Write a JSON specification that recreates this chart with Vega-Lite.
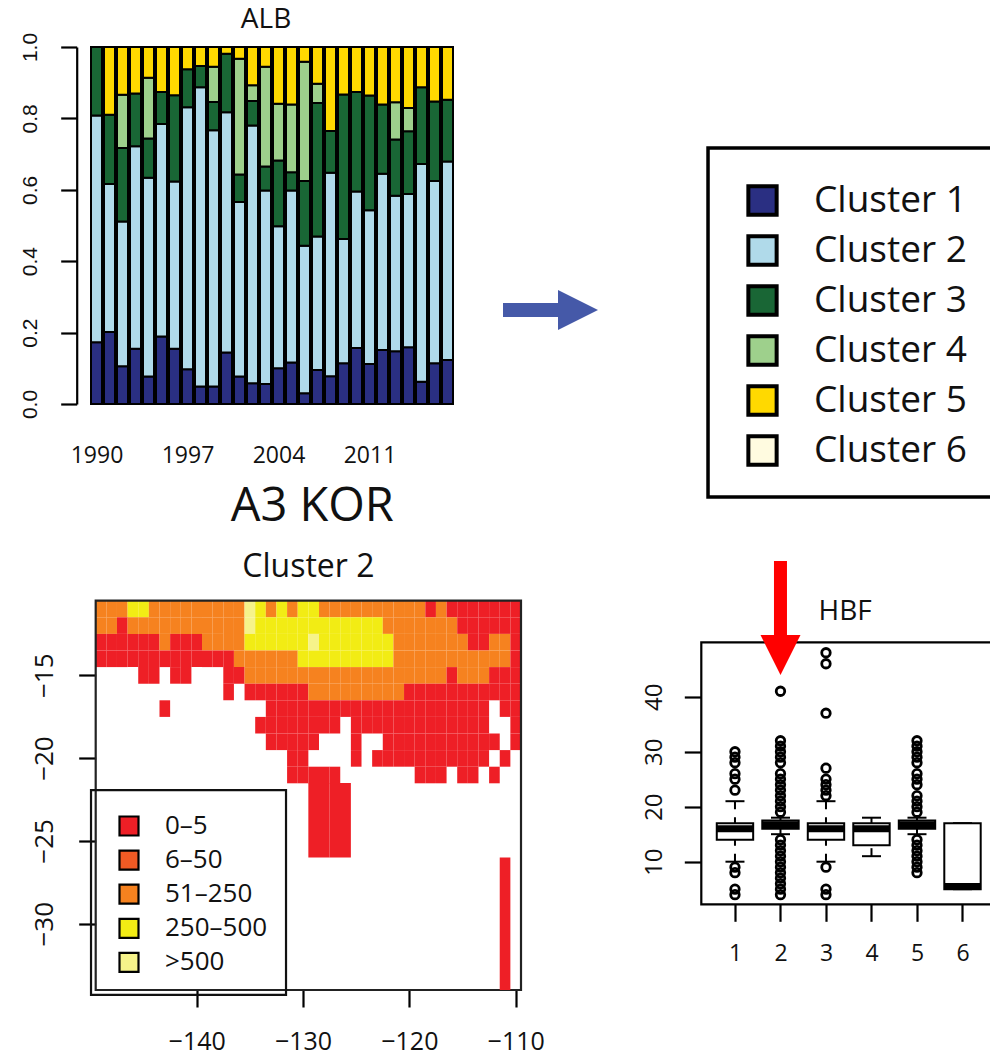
{"$schema":"https://vega.github.io/schema/vega-lite/v6.json","width":990,"height":1054,"padding":0,"autosize":"none","background":"white",
"config":{"view":{"stroke":null},"axis":{"grid":false,"title":null,"labelColor":"#111","tickColor":"#000","domainColor":"#000","tickWidth":2.2,"domainWidth":2.2,"labelFont":"Open Sans"},"legend":{"titleFontSize":0}},
"layer":[
{"data":{"values":[
{"year":1990,"cluster":"Cluster 1","share":0.173},{"year":1990,"cluster":"Cluster 2","share":0.635},{"year":1990,"cluster":"Cluster 3","share":0.192},
{"year":1991,"cluster":"Cluster 1","share":0.202},{"year":1991,"cluster":"Cluster 2","share":0.414},{"year":1991,"cluster":"Cluster 3","share":0.194},{"year":1991,"cluster":"Cluster 5","share":0.19},
{"year":1992,"cluster":"Cluster 1","share":0.106},{"year":1992,"cluster":"Cluster 2","share":0.405},{"year":1992,"cluster":"Cluster 3","share":0.206},{"year":1992,"cluster":"Cluster 4","share":0.149},{"year":1992,"cluster":"Cluster 5","share":0.134},
{"year":1993,"cluster":"Cluster 1","share":0.155},{"year":1993,"cluster":"Cluster 2","share":0.567},{"year":1993,"cluster":"Cluster 3","share":0.148},{"year":1993,"cluster":"Cluster 5","share":0.13},
{"year":1994,"cluster":"Cluster 1","share":0.077},{"year":1994,"cluster":"Cluster 2","share":0.557},{"year":1994,"cluster":"Cluster 3","share":0.11},{"year":1994,"cluster":"Cluster 4","share":0.17},{"year":1994,"cluster":"Cluster 5","share":0.086},
{"year":1995,"cluster":"Cluster 1","share":0.189},{"year":1995,"cluster":"Cluster 2","share":0.595},{"year":1995,"cluster":"Cluster 3","share":0.09},{"year":1995,"cluster":"Cluster 5","share":0.126},
{"year":1996,"cluster":"Cluster 1","share":0.155},{"year":1996,"cluster":"Cluster 2","share":0.468},{"year":1996,"cluster":"Cluster 3","share":0.242},{"year":1996,"cluster":"Cluster 5","share":0.135},
{"year":1997,"cluster":"Cluster 1","share":0.097},{"year":1997,"cluster":"Cluster 2","share":0.734},{"year":1997,"cluster":"Cluster 3","share":0.107},{"year":1997,"cluster":"Cluster 5","share":0.062},
{"year":1998,"cluster":"Cluster 1","share":0.049},{"year":1998,"cluster":"Cluster 2","share":0.838},{"year":1998,"cluster":"Cluster 3","share":0.06},{"year":1998,"cluster":"Cluster 5","share":0.053},
{"year":1999,"cluster":"Cluster 1","share":0.049},{"year":1999,"cluster":"Cluster 2","share":0.718},{"year":1999,"cluster":"Cluster 3","share":0.079},{"year":1999,"cluster":"Cluster 4","share":0.099},{"year":1999,"cluster":"Cluster 5","share":0.055},
{"year":2000,"cluster":"Cluster 1","share":0.144},{"year":2000,"cluster":"Cluster 2","share":0.673},{"year":2000,"cluster":"Cluster 3","share":0.164},{"year":2000,"cluster":"Cluster 5","share":0.019},
{"year":2001,"cluster":"Cluster 1","share":0.077},{"year":2001,"cluster":"Cluster 2","share":0.489},{"year":2001,"cluster":"Cluster 3","share":0.077},{"year":2001,"cluster":"Cluster 4","share":0.324},{"year":2001,"cluster":"Cluster 5","share":0.033},
{"year":2002,"cluster":"Cluster 1","share":0.058},{"year":2002,"cluster":"Cluster 2","share":0.722},{"year":2002,"cluster":"Cluster 3","share":0.069},{"year":2002,"cluster":"Cluster 4","share":0.044},{"year":2002,"cluster":"Cluster 5","share":0.107},
{"year":2003,"cluster":"Cluster 1","share":0.056},{"year":2003,"cluster":"Cluster 2","share":0.542},{"year":2003,"cluster":"Cluster 3","share":0.067},{"year":2003,"cluster":"Cluster 4","share":0.28},{"year":2003,"cluster":"Cluster 5","share":0.055},
{"year":2004,"cluster":"Cluster 1","share":0.1},{"year":2004,"cluster":"Cluster 2","share":0.398},{"year":2004,"cluster":"Cluster 3","share":0.184},{"year":2004,"cluster":"Cluster 4","share":0.159},{"year":2004,"cluster":"Cluster 5","share":0.159},
{"year":2005,"cluster":"Cluster 1","share":0.116},{"year":2005,"cluster":"Cluster 2","share":0.482},{"year":2005,"cluster":"Cluster 3","share":0.051},{"year":2005,"cluster":"Cluster 4","share":0.19},{"year":2005,"cluster":"Cluster 5","share":0.161},
{"year":2006,"cluster":"Cluster 1","share":0.03},{"year":2006,"cluster":"Cluster 2","share":0.413},{"year":2006,"cluster":"Cluster 3","share":0.182},{"year":2006,"cluster":"Cluster 4","share":0.334},{"year":2006,"cluster":"Cluster 5","share":0.041},
{"year":2007,"cluster":"Cluster 1","share":0.095},{"year":2007,"cluster":"Cluster 2","share":0.374},{"year":2007,"cluster":"Cluster 3","share":0.374},{"year":2007,"cluster":"Cluster 4","share":0.054},{"year":2007,"cluster":"Cluster 5","share":0.103},
{"year":2008,"cluster":"Cluster 1","share":0.078},{"year":2008,"cluster":"Cluster 2","share":0.57},{"year":2008,"cluster":"Cluster 3","share":0.117},{"year":2008,"cluster":"Cluster 5","share":0.235},
{"year":2009,"cluster":"Cluster 1","share":0.114},{"year":2009,"cluster":"Cluster 2","share":0.348},{"year":2009,"cluster":"Cluster 3","share":0.405},{"year":2009,"cluster":"Cluster 5","share":0.133},
{"year":2010,"cluster":"Cluster 1","share":0.157},{"year":2010,"cluster":"Cluster 2","share":0.438},{"year":2010,"cluster":"Cluster 3","share":0.279},{"year":2010,"cluster":"Cluster 5","share":0.126},
{"year":2011,"cluster":"Cluster 1","share":0.112},{"year":2011,"cluster":"Cluster 2","share":0.431},{"year":2011,"cluster":"Cluster 3","share":0.321},{"year":2011,"cluster":"Cluster 5","share":0.136},
{"year":2012,"cluster":"Cluster 1","share":0.151},{"year":2012,"cluster":"Cluster 2","share":0.494},{"year":2012,"cluster":"Cluster 3","share":0.194},{"year":2012,"cluster":"Cluster 5","share":0.161},
{"year":2013,"cluster":"Cluster 1","share":0.148},{"year":2013,"cluster":"Cluster 2","share":0.435},{"year":2013,"cluster":"Cluster 3","share":0.158},{"year":2013,"cluster":"Cluster 4","share":0.104},{"year":2013,"cluster":"Cluster 5","share":0.155},
{"year":2014,"cluster":"Cluster 1","share":0.159},{"year":2014,"cluster":"Cluster 2","share":0.429},{"year":2014,"cluster":"Cluster 3","share":0.176},{"year":2014,"cluster":"Cluster 4","share":0.065},{"year":2014,"cluster":"Cluster 5","share":0.171},
{"year":2015,"cluster":"Cluster 1","share":0.062},{"year":2015,"cluster":"Cluster 2","share":0.61},{"year":2015,"cluster":"Cluster 3","share":0.215},{"year":2015,"cluster":"Cluster 5","share":0.113},
{"year":2016,"cluster":"Cluster 1","share":0.114},{"year":2016,"cluster":"Cluster 2","share":0.511},{"year":2016,"cluster":"Cluster 3","share":0.222},{"year":2016,"cluster":"Cluster 5","share":0.153},
{"year":2017,"cluster":"Cluster 1","share":0.123},{"year":2017,"cluster":"Cluster 2","share":0.556},{"year":2017,"cluster":"Cluster 3","share":0.173},{"year":2017,"cluster":"Cluster 5","share":0.148}
]},
"layer":[
{"mark":{"type":"bar","orient":"vertical","width":11,"stroke":"#000","strokeWidth":2},
"encoding":{
"x":{"field":"year","type":"quantitative","scale":{"domain":[1989.5,2017.5],"range":[90,454],"nice":false,"zero":false,"padding":0},
"axis":{"orient":"bottom","offset":-650,"values":[1990,1997,2004,2011],"format":"d","domain":false,"ticks":false,"labelFontSize":23,"labelPadding":40,"labelFlush":false,"labelOverlap":false}},
"y":{"field":"share","type":"quantitative","stack":"zero","scale":{"domain":[0,1],"range":[404,47],"nice":false},
"axis":{"orient":"left","offset":-76.7,"values":[0,0.2,0.4,0.6,0.8,1],"format":".1f","tickSize":16,"labelAngle":-90,"labelFontSize":21,"labelFont":"Liberation Sans","labelPadding":20,"labelFlush":false,"labelOverlap":false}},
"order":{"field":"cluster"},
"color":{"field":"cluster","type":"nominal","scale":{"domain":["Cluster 1","Cluster 2","Cluster 3","Cluster 4","Cluster 5","Cluster 6"],"range":["#2A2F82","#B0DAEA","#196635","#9ED08C","#FFD900","#FFFBE0"]},
"legend":{"orient":"none","legendX":744,"legendY":182,"title":null,"padding":0,"symbolType":"square","symbolSize":800,"symbolStrokeColor":"#000","symbolStrokeWidth":4,"labelFont":"Open Sans","labelFontSize":37,"labelColor":"#111","labelOffset":33,"rowPadding":5}}
}},
{"data":{"values":[{"year":2037.04,"year2":2060,"share":0.717,"share2":-0.2605}]},"mark":{"type":"rect","fillOpacity":0,"stroke":"#000","strokeWidth":3.5},
"encoding":{"x":{"field":"year","type":"quantitative"},"x2":{"field":"year2"},"y":{"field":"share","type":"quantitative"},"y2":{"field":"share2"}}},
{"data":{"values":[{"year":2021.27,"year2":2026,"share":0.263}]},"mark":{"type":"rule","color":"#4559A8","size":14},
"encoding":{"x":{"field":"year","type":"quantitative"},"x2":{"field":"year2"},"y":{"field":"share","type":"quantitative"}}},
{"data":{"values":[{"year":2027.04,"share":0.263}]},"mark":{"type":"point","filled":true,"color":"#4559A8","opacity":1,"size":1600,"shape":"M-1,-1L1,0L-1,1Z"},
"encoding":{"x":{"field":"year","type":"quantitative"},"y":{"field":"share","type":"quantitative"}}},
{"data":{"values":[{"year":2003.04,"share":1.0756,"label":"ALB"}]},"mark":{"type":"text","font":"Open Sans","fontSize":28,"color":"#111"},
"encoding":{"x":{"field":"year","type":"quantitative"},"y":{"field":"share","type":"quantitative"},"text":{"field":"label"}}}
]},
{"data":{"values":[
{"lon":-149,"lat":-11,"cat":"51–250"},{"lon":-148,"lat":-11,"cat":"51–250"},{"lon":-147,"lat":-11,"cat":"51–250"},{"lon":-146,"lat":-11,"cat":"250–500"},{"lon":-145,"lat":-11,"cat":"250–500"},{"lon":-144,"lat":-11,"cat":"51–250"},{"lon":-143,"lat":-11,"cat":"51–250"},{"lon":-142,"lat":-11,"cat":"51–250"},{"lon":-141,"lat":-11,"cat":"51–250"},{"lon":-140,"lat":-11,"cat":"51–250"},{"lon":-139,"lat":-11,"cat":"51–250"},{"lon":-138,"lat":-11,"cat":"51–250"},{"lon":-137,"lat":-11,"cat":"51–250"},{"lon":-136,"lat":-11,"cat":"51–250"},{"lon":-135,"lat":-11,"cat":">500"},{"lon":-134,"lat":-11,"cat":"250–500"},{"lon":-133,"lat":-11,"cat":"51–250"},{"lon":-132,"lat":-11,"cat":"250–500"},{"lon":-131,"lat":-11,"cat":"51–250"},{"lon":-130,"lat":-11,"cat":"250–500"},{"lon":-129,"lat":-11,"cat":"250–500"},{"lon":-128,"lat":-11,"cat":"51–250"},{"lon":-127,"lat":-11,"cat":"51–250"},{"lon":-126,"lat":-11,"cat":"51–250"},{"lon":-125,"lat":-11,"cat":"51–250"},{"lon":-124,"lat":-11,"cat":"51–250"},{"lon":-123,"lat":-11,"cat":"51–250"},{"lon":-122,"lat":-11,"cat":"51–250"},{"lon":-121,"lat":-11,"cat":"51–250"},{"lon":-120,"lat":-11,"cat":"51–250"},{"lon":-119,"lat":-11,"cat":"51–250"},{"lon":-118,"lat":-11,"cat":"0–5"},{"lon":-117,"lat":-11,"cat":"51–250"},{"lon":-116,"lat":-11,"cat":"0–5"},{"lon":-115,"lat":-11,"cat":"0–5"},{"lon":-114,"lat":-11,"cat":"0–5"},{"lon":-113,"lat":-11,"cat":"0–5"},{"lon":-112,"lat":-11,"cat":"0–5"},{"lon":-111,"lat":-11,"cat":"0–5"},{"lon":-110,"lat":-11,"cat":"0–5"},
{"lon":-149,"lat":-12,"cat":"51–250"},{"lon":-148,"lat":-12,"cat":"51–250"},{"lon":-147,"lat":-12,"cat":"0–5"},{"lon":-146,"lat":-12,"cat":"51–250"},{"lon":-145,"lat":-12,"cat":"51–250"},{"lon":-144,"lat":-12,"cat":"51–250"},{"lon":-143,"lat":-12,"cat":"51–250"},{"lon":-142,"lat":-12,"cat":"51–250"},{"lon":-141,"lat":-12,"cat":"51–250"},{"lon":-140,"lat":-12,"cat":"51–250"},{"lon":-139,"lat":-12,"cat":"51–250"},{"lon":-138,"lat":-12,"cat":"51–250"},{"lon":-137,"lat":-12,"cat":"51–250"},{"lon":-136,"lat":-12,"cat":"51–250"},{"lon":-135,"lat":-12,"cat":">500"},{"lon":-134,"lat":-12,"cat":"250–500"},{"lon":-133,"lat":-12,"cat":"250–500"},{"lon":-132,"lat":-12,"cat":"250–500"},{"lon":-131,"lat":-12,"cat":"250–500"},{"lon":-130,"lat":-12,"cat":"250–500"},{"lon":-129,"lat":-12,"cat":"250–500"},{"lon":-128,"lat":-12,"cat":"250–500"},{"lon":-127,"lat":-12,"cat":"250–500"},{"lon":-126,"lat":-12,"cat":"250–500"},{"lon":-125,"lat":-12,"cat":"250–500"},{"lon":-124,"lat":-12,"cat":"250–500"},{"lon":-123,"lat":-12,"cat":"250–500"},{"lon":-122,"lat":-12,"cat":"51–250"},{"lon":-121,"lat":-12,"cat":"51–250"},{"lon":-120,"lat":-12,"cat":"51–250"},{"lon":-119,"lat":-12,"cat":"51–250"},{"lon":-118,"lat":-12,"cat":"51–250"},{"lon":-117,"lat":-12,"cat":"51–250"},{"lon":-116,"lat":-12,"cat":"51–250"},{"lon":-115,"lat":-12,"cat":"0–5"},{"lon":-114,"lat":-12,"cat":"0–5"},{"lon":-113,"lat":-12,"cat":"0–5"},{"lon":-112,"lat":-12,"cat":"0–5"},{"lon":-111,"lat":-12,"cat":"0–5"},{"lon":-110,"lat":-12,"cat":"0–5"},
{"lon":-149,"lat":-13,"cat":"0–5"},{"lon":-148,"lat":-13,"cat":"0–5"},{"lon":-147,"lat":-13,"cat":"0–5"},{"lon":-146,"lat":-13,"cat":"0–5"},{"lon":-145,"lat":-13,"cat":"0–5"},{"lon":-144,"lat":-13,"cat":"0–5"},{"lon":-143,"lat":-13,"cat":"51–250"},{"lon":-142,"lat":-13,"cat":"0–5"},{"lon":-141,"lat":-13,"cat":"0–5"},{"lon":-140,"lat":-13,"cat":"0–5"},{"lon":-139,"lat":-13,"cat":"51–250"},{"lon":-138,"lat":-13,"cat":"51–250"},{"lon":-137,"lat":-13,"cat":"51–250"},{"lon":-136,"lat":-13,"cat":"51–250"},{"lon":-135,"lat":-13,"cat":"250–500"},{"lon":-134,"lat":-13,"cat":"250–500"},{"lon":-133,"lat":-13,"cat":"250–500"},{"lon":-132,"lat":-13,"cat":"250–500"},{"lon":-131,"lat":-13,"cat":"250–500"},{"lon":-130,"lat":-13,"cat":"250–500"},{"lon":-129,"lat":-13,"cat":">500"},{"lon":-128,"lat":-13,"cat":"250–500"},{"lon":-127,"lat":-13,"cat":"250–500"},{"lon":-126,"lat":-13,"cat":"250–500"},{"lon":-125,"lat":-13,"cat":"250–500"},{"lon":-124,"lat":-13,"cat":"250–500"},{"lon":-123,"lat":-13,"cat":"250–500"},{"lon":-122,"lat":-13,"cat":"250–500"},{"lon":-121,"lat":-13,"cat":"51–250"},{"lon":-120,"lat":-13,"cat":"51–250"},{"lon":-119,"lat":-13,"cat":"51–250"},{"lon":-118,"lat":-13,"cat":"51–250"},{"lon":-117,"lat":-13,"cat":"51–250"},{"lon":-116,"lat":-13,"cat":"51–250"},{"lon":-115,"lat":-13,"cat":"51–250"},{"lon":-114,"lat":-13,"cat":"0–5"},{"lon":-113,"lat":-13,"cat":"0–5"},{"lon":-112,"lat":-13,"cat":"51–250"},{"lon":-111,"lat":-13,"cat":"51–250"},{"lon":-110,"lat":-13,"cat":"0–5"},
{"lon":-149,"lat":-14,"cat":"0–5"},{"lon":-148,"lat":-14,"cat":"0–5"},{"lon":-147,"lat":-14,"cat":"0–5"},{"lon":-146,"lat":-14,"cat":"0–5"},{"lon":-145,"lat":-14,"cat":"0–5"},{"lon":-144,"lat":-14,"cat":"0–5"},{"lon":-143,"lat":-14,"cat":"0–5"},{"lon":-142,"lat":-14,"cat":"0–5"},{"lon":-141,"lat":-14,"cat":"0–5"},{"lon":-140,"lat":-14,"cat":"0–5"},{"lon":-139,"lat":-14,"cat":"0–5"},{"lon":-138,"lat":-14,"cat":"0–5"},{"lon":-137,"lat":-14,"cat":"0–5"},{"lon":-136,"lat":-14,"cat":"51–250"},{"lon":-135,"lat":-14,"cat":"51–250"},{"lon":-134,"lat":-14,"cat":"51–250"},{"lon":-133,"lat":-14,"cat":"51–250"},{"lon":-132,"lat":-14,"cat":"51–250"},{"lon":-131,"lat":-14,"cat":"51–250"},{"lon":-130,"lat":-14,"cat":"250–500"},{"lon":-129,"lat":-14,"cat":"250–500"},{"lon":-128,"lat":-14,"cat":"250–500"},{"lon":-127,"lat":-14,"cat":"250–500"},{"lon":-126,"lat":-14,"cat":"250–500"},{"lon":-125,"lat":-14,"cat":"250–500"},{"lon":-124,"lat":-14,"cat":"250–500"},{"lon":-123,"lat":-14,"cat":"250–500"},{"lon":-122,"lat":-14,"cat":"250–500"},{"lon":-121,"lat":-14,"cat":"51–250"},{"lon":-120,"lat":-14,"cat":"51–250"},{"lon":-119,"lat":-14,"cat":"51–250"},{"lon":-118,"lat":-14,"cat":"51–250"},{"lon":-117,"lat":-14,"cat":"51–250"},{"lon":-116,"lat":-14,"cat":"51–250"},{"lon":-115,"lat":-14,"cat":"51–250"},{"lon":-114,"lat":-14,"cat":"51–250"},{"lon":-113,"lat":-14,"cat":"51–250"},{"lon":-112,"lat":-14,"cat":"51–250"},{"lon":-111,"lat":-14,"cat":"51–250"},{"lon":-110,"lat":-14,"cat":"0–5"},
{"lon":-145,"lat":-15,"cat":"0–5"},{"lon":-144,"lat":-15,"cat":"0–5"},{"lon":-142,"lat":-15,"cat":"0–5"},{"lon":-141,"lat":-15,"cat":"0–5"},{"lon":-137,"lat":-15,"cat":"0–5"},{"lon":-136,"lat":-15,"cat":"0–5"},{"lon":-135,"lat":-15,"cat":"51–250"},{"lon":-134,"lat":-15,"cat":"51–250"},{"lon":-133,"lat":-15,"cat":"51–250"},{"lon":-132,"lat":-15,"cat":"51–250"},{"lon":-131,"lat":-15,"cat":"51–250"},{"lon":-130,"lat":-15,"cat":"51–250"},{"lon":-129,"lat":-15,"cat":"51–250"},{"lon":-128,"lat":-15,"cat":"51–250"},{"lon":-127,"lat":-15,"cat":"51–250"},{"lon":-126,"lat":-15,"cat":"51–250"},{"lon":-125,"lat":-15,"cat":"51–250"},{"lon":-124,"lat":-15,"cat":"51–250"},{"lon":-123,"lat":-15,"cat":"51–250"},{"lon":-122,"lat":-15,"cat":"51–250"},{"lon":-121,"lat":-15,"cat":"51–250"},{"lon":-120,"lat":-15,"cat":"51–250"},{"lon":-119,"lat":-15,"cat":"51–250"},{"lon":-118,"lat":-15,"cat":"51–250"},{"lon":-117,"lat":-15,"cat":"51–250"},{"lon":-116,"lat":-15,"cat":"0–5"},{"lon":-115,"lat":-15,"cat":"51–250"},{"lon":-114,"lat":-15,"cat":"51–250"},{"lon":-113,"lat":-15,"cat":"51–250"},{"lon":-112,"lat":-15,"cat":"0–5"},{"lon":-111,"lat":-15,"cat":"0–5"},{"lon":-110,"lat":-15,"cat":"0–5"},
{"lon":-137,"lat":-16,"cat":"0–5"},{"lon":-135,"lat":-16,"cat":"0–5"},{"lon":-134,"lat":-16,"cat":"0–5"},{"lon":-133,"lat":-16,"cat":"0–5"},{"lon":-132,"lat":-16,"cat":"0–5"},{"lon":-131,"lat":-16,"cat":"0–5"},{"lon":-130,"lat":-16,"cat":"0–5"},{"lon":-129,"lat":-16,"cat":"51–250"},{"lon":-128,"lat":-16,"cat":"51–250"},{"lon":-127,"lat":-16,"cat":"51–250"},{"lon":-126,"lat":-16,"cat":"51–250"},{"lon":-125,"lat":-16,"cat":"51–250"},{"lon":-124,"lat":-16,"cat":"51–250"},{"lon":-123,"lat":-16,"cat":"51–250"},{"lon":-122,"lat":-16,"cat":"51–250"},{"lon":-121,"lat":-16,"cat":"51–250"},{"lon":-120,"lat":-16,"cat":"0–5"},{"lon":-119,"lat":-16,"cat":"0–5"},{"lon":-118,"lat":-16,"cat":"0–5"},{"lon":-117,"lat":-16,"cat":"0–5"},{"lon":-116,"lat":-16,"cat":"0–5"},{"lon":-115,"lat":-16,"cat":"0–5"},{"lon":-114,"lat":-16,"cat":"0–5"},{"lon":-113,"lat":-16,"cat":"0–5"},{"lon":-112,"lat":-16,"cat":"0–5"},{"lon":-111,"lat":-16,"cat":"0–5"},{"lon":-110,"lat":-16,"cat":"0–5"},
{"lon":-143,"lat":-17,"cat":"0–5"},{"lon":-133,"lat":-17,"cat":"0–5"},{"lon":-132,"lat":-17,"cat":"0–5"},{"lon":-131,"lat":-17,"cat":"0–5"},{"lon":-130,"lat":-17,"cat":"0–5"},{"lon":-129,"lat":-17,"cat":"0–5"},{"lon":-128,"lat":-17,"cat":"0–5"},{"lon":-127,"lat":-17,"cat":"0–5"},{"lon":-126,"lat":-17,"cat":"0–5"},{"lon":-125,"lat":-17,"cat":"0–5"},{"lon":-124,"lat":-17,"cat":"0–5"},{"lon":-123,"lat":-17,"cat":"0–5"},{"lon":-122,"lat":-17,"cat":"0–5"},{"lon":-121,"lat":-17,"cat":"0–5"},{"lon":-120,"lat":-17,"cat":"0–5"},{"lon":-119,"lat":-17,"cat":"0–5"},{"lon":-118,"lat":-17,"cat":"0–5"},{"lon":-117,"lat":-17,"cat":"0–5"},{"lon":-116,"lat":-17,"cat":"0–5"},{"lon":-115,"lat":-17,"cat":"0–5"},{"lon":-114,"lat":-17,"cat":"0–5"},{"lon":-113,"lat":-17,"cat":"0–5"},{"lon":-111,"lat":-17,"cat":"0–5"},{"lon":-110,"lat":-17,"cat":"0–5"},
{"lon":-134,"lat":-18,"cat":"0–5"},{"lon":-133,"lat":-18,"cat":"0–5"},{"lon":-132,"lat":-18,"cat":"0–5"},{"lon":-131,"lat":-18,"cat":"0–5"},{"lon":-130,"lat":-18,"cat":"0–5"},{"lon":-129,"lat":-18,"cat":"0–5"},{"lon":-128,"lat":-18,"cat":"0–5"},{"lon":-127,"lat":-18,"cat":"0–5"},{"lon":-125,"lat":-18,"cat":"0–5"},{"lon":-124,"lat":-18,"cat":"0–5"},{"lon":-123,"lat":-18,"cat":"0–5"},{"lon":-122,"lat":-18,"cat":"0–5"},{"lon":-121,"lat":-18,"cat":"0–5"},{"lon":-120,"lat":-18,"cat":"0–5"},{"lon":-119,"lat":-18,"cat":"0–5"},{"lon":-118,"lat":-18,"cat":"0–5"},{"lon":-117,"lat":-18,"cat":"0–5"},{"lon":-116,"lat":-18,"cat":"0–5"},{"lon":-115,"lat":-18,"cat":"0–5"},{"lon":-114,"lat":-18,"cat":"0–5"},{"lon":-113,"lat":-18,"cat":"0–5"},{"lon":-110,"lat":-18,"cat":"0–5"},
{"lon":-133,"lat":-19,"cat":"0–5"},{"lon":-132,"lat":-19,"cat":"0–5"},{"lon":-131,"lat":-19,"cat":"0–5"},{"lon":-130,"lat":-19,"cat":"0–5"},{"lon":-129,"lat":-19,"cat":"0–5"},{"lon":-125,"lat":-19,"cat":"0–5"},{"lon":-122,"lat":-19,"cat":"0–5"},{"lon":-121,"lat":-19,"cat":"0–5"},{"lon":-120,"lat":-19,"cat":"0–5"},{"lon":-119,"lat":-19,"cat":"0–5"},{"lon":-118,"lat":-19,"cat":"0–5"},{"lon":-117,"lat":-19,"cat":"0–5"},{"lon":-116,"lat":-19,"cat":"0–5"},{"lon":-115,"lat":-19,"cat":"0–5"},{"lon":-114,"lat":-19,"cat":"0–5"},{"lon":-113,"lat":-19,"cat":"0–5"},{"lon":-112,"lat":-19,"cat":"0–5"},{"lon":-110,"lat":-19,"cat":"0–5"},
{"lon":-131,"lat":-20,"cat":"0–5"},{"lon":-130,"lat":-20,"cat":"0–5"},{"lon":-125,"lat":-20,"cat":"0–5"},{"lon":-123,"lat":-20,"cat":"0–5"},{"lon":-122,"lat":-20,"cat":"0–5"},{"lon":-121,"lat":-20,"cat":"0–5"},{"lon":-120,"lat":-20,"cat":"0–5"},{"lon":-119,"lat":-20,"cat":"0–5"},{"lon":-118,"lat":-20,"cat":"0–5"},{"lon":-117,"lat":-20,"cat":"0–5"},{"lon":-116,"lat":-20,"cat":"0–5"},{"lon":-115,"lat":-20,"cat":"0–5"},{"lon":-114,"lat":-20,"cat":"0–5"},{"lon":-113,"lat":-20,"cat":"0–5"},{"lon":-111,"lat":-20,"cat":"0–5"},
{"lon":-131,"lat":-21,"cat":"0–5"},{"lon":-130,"lat":-21,"cat":"0–5"},{"lon":-129,"lat":-21,"cat":"0–5"},{"lon":-128,"lat":-21,"cat":"0–5"},{"lon":-127,"lat":-21,"cat":"0–5"},{"lon":-119,"lat":-21,"cat":"0–5"},{"lon":-118,"lat":-21,"cat":"0–5"},{"lon":-117,"lat":-21,"cat":"0–5"},{"lon":-115,"lat":-21,"cat":"0–5"},{"lon":-114,"lat":-21,"cat":"0–5"},{"lon":-112,"lat":-21,"cat":"0–5"}
]},
"mark":{"type":"rect"},
"encoding":{
"x":{"field":"lon","type":"ordinal","axis":null,"scale":{"type":"band","domain":[-149,-148,-147,-146,-145,-144,-143,-142,-141,-140,-139,-138,-137,-136,-135,-134,-133,-132,-131,-130,-129,-128,-127,-126,-125,-124,-123,-122,-121,-120,-119,-118,-117,-116,-115,-114,-113,-112,-111,-110],"range":[95.7,521],"paddingInner":0,"paddingOuter":0}},
"y":{"field":"lat","type":"ordinal","axis":null,"scale":{"type":"band","domain":[-11,-12,-13,-14,-15,-16,-17,-18,-19,-20,-21],"range":[600.7,783.3],"paddingInner":0,"paddingOuter":0}},
"color":{"field":"cat","type":"nominal","scale":{"domain":["0–5","6–50","51–250","250–500",">500"],"range":["#EE1F26","#F15A24","#F6821F","#F2EC14","#F6F38A"]},
"legend":{"orient":"none","legendX":116,"legendY":813,"title":null,"padding":0,"symbolType":"square","symbolSize":361,"symbolStrokeColor":"#000","symbolStrokeWidth":2.2,"labelFont":"Open Sans","labelFontSize":26,"labelColor":"#111","labelOffset":23,"rowPadding":6.1}}
}},
{"layer":[
{"data":{"values":[{"lon":-149.5,"lon2":-109.5,"lat":-10.5,"lat2":-34}]},"mark":{"type":"rect","fillOpacity":0,"stroke":"#222","strokeWidth":2.2},
"encoding":{
"x":{"field":"lon","type":"quantitative","scale":{"domain":[-149.5,-109.5],"range":[95.7,521],"nice":false,"zero":false},"axis":{"orient":"bottom","offset":-64,"values":[-140,-130,-120,-110],"domain":false,"tickSize":17,"labelFontSize":25,"labelPadding":22,"labelFlush":false,"labelOverlap":false}},
"x2":{"field":"lon2"},
"y":{"field":"lat","type":"quantitative","scale":{"domain":[-34,-10.5],"range":[990,600.7],"nice":false,"zero":false},"axis":{"orient":"left","offset":-95.7,"values":[-15,-20,-25,-30],"domain":false,"tickSize":17,"labelAngle":-90,"labelFontSize":26,"labelPadding":21,"labelFlush":false,"labelOverlap":false}},
"y2":{"field":"lat2"}}},
{"data":{"values":[{"lon":-149.94,"lon2":-131.6,"lat":-21.93,"lat2":-34.3}]},"mark":{"type":"rect","fillOpacity":0,"stroke":"#111","strokeWidth":2.2},
"encoding":{"x":{"field":"lon","type":"quantitative"},"x2":{"field":"lon2"},"y":{"field":"lat","type":"quantitative"},"y2":{"field":"lat2"}}},
{"data":{"values":[
{"lon":-129.5,"lon2":-127.5,"lat":-21.5,"lat2":-26},{"lon":-127.5,"lon2":-125.5,"lat":-21.5,"lat2":-26},{"lon":-111.5,"lon2":-110.5,"lat":-26,"lat2":-34}
]},"mark":{"type":"rect","color":"#EE1F26"},
"encoding":{"x":{"field":"lon","type":"quantitative"},"x2":{"field":"lon2"},"y":{"field":"lat","type":"quantitative"},"y2":{"field":"lat2"}}},
{"data":{"values":[{"lon":-129.13,"lat":-4.85,"label":"A3 KOR"},{"lon":-129.5,"lat":-8.47,"label":"Cluster 2"}]},"mark":{"type":"text","font":"Open Sans","color":"#111"},
"encoding":{"x":{"field":"lon","type":"quantitative"},"y":{"field":"lat","type":"quantitative"},"text":{"field":"label"},"size":{"field":"label","type":"nominal","scale":{"domain":["A3 KOR","Cluster 2"],"range":[47,32]},"legend":null}}}
]},
{"layer":[
{"data":{"values":[{"x":0.26,"x2":7,"y":2.25,"y2":49.9}]},"mark":{"type":"rect","fillOpacity":0,"stroke":"#000","strokeWidth":2.2},
"encoding":{
"x":{"field":"x","type":"quantitative","scale":{"domain":[0.26,7],"range":[701.3,1008],"nice":false,"zero":false,"padding":0},"axis":{"orient":"bottom","offset":-149.7,"values":[1,2,3,4,5,6],"format":"d","domain":false,"tickSize":17,"labelFontSize":23,"labelPadding":21,"labelFlush":false,"labelOverlap":false}},
"x2":{"field":"x2"},
"y":{"field":"y","type":"quantitative","scale":{"domain":[2.25,49.9],"range":[904.3,642.3],"nice":false,"zero":false},"axis":{"orient":"left","offset":-701.3,"values":[10,20,30,40],"domain":false,"tickSize":17,"labelAngle":-90,"labelFontSize":24,"labelPadding":18,"labelFlush":false,"labelOverlap":false}},
"y2":{"field":"y2"}}},
{"data":{"name":"box","values":[
{"cluster":1,"q1":14,"q3":17,"median":16,"lo":10,"hi":21},
{"cluster":2,"q1":16,"q3":17.5,"median":16.7,"lo":15,"hi":18},
{"cluster":3,"q1":14,"q3":17,"median":16,"lo":10,"hi":21},
{"cluster":4,"q1":13,"q3":17,"median":16,"lo":11,"hi":18},
{"cluster":5,"q1":16,"q3":17.5,"median":16.7,"lo":15,"hi":18},
{"cluster":6,"q1":5,"q3":17,"median":5.5,"lo":5,"hi":17}
]},"layer":[
{"mark":{"type":"rule","color":"#000","strokeWidth":2,"strokeDash":[8,8]},"encoding":{"x":{"field":"cluster","type":"quantitative"},"y":{"field":"hi","type":"quantitative"},"y2":{"field":"q3"}}},
{"mark":{"type":"rule","color":"#000","strokeWidth":2,"strokeDash":[8,8]},"encoding":{"x":{"field":"cluster","type":"quantitative"},"y":{"field":"lo","type":"quantitative"},"y2":{"field":"q1"}}},
{"mark":{"type":"tick","orient":"horizontal","color":"#000","size":19,"thickness":2,"opacity":1},"encoding":{"x":{"field":"cluster","type":"quantitative"},"y":{"field":"lo","type":"quantitative"}}},
{"mark":{"type":"tick","orient":"horizontal","color":"#000","size":19,"thickness":2,"opacity":1},"encoding":{"x":{"field":"cluster","type":"quantitative"},"y":{"field":"hi","type":"quantitative"}}},
{"mark":{"type":"bar","orient":"vertical","width":36.4,"fill":"white","stroke":"#000","strokeWidth":2},"encoding":{"x":{"field":"cluster","type":"quantitative"},"y":{"field":"q3","type":"quantitative"},"y2":{"field":"q1"}}},
{"mark":{"type":"tick","orient":"horizontal","color":"#000","size":37,"thickness":7,"opacity":1},"encoding":{"x":{"field":"cluster","type":"quantitative"},"y":{"field":"median","type":"quantitative"}}}
]},
{"data":{"values":[
{"cluster":1,"hbf":30},{"cluster":1,"hbf":29},{"cluster":1,"hbf":28},{"cluster":1,"hbf":26},{"cluster":1,"hbf":25},{"cluster":1,"hbf":23},{"cluster":1,"hbf":9},{"cluster":1,"hbf":8},{"cluster":1,"hbf":5},{"cluster":1,"hbf":4},
{"cluster":2,"hbf":41},{"cluster":2,"hbf":32},{"cluster":2,"hbf":31},{"cluster":2,"hbf":30},{"cluster":2,"hbf":29},{"cluster":2,"hbf":28},{"cluster":2,"hbf":26},{"cluster":2,"hbf":25},{"cluster":2,"hbf":24},{"cluster":2,"hbf":23},{"cluster":2,"hbf":22},{"cluster":2,"hbf":21},{"cluster":2,"hbf":20},{"cluster":2,"hbf":19},{"cluster":2,"hbf":14},{"cluster":2,"hbf":13},{"cluster":2,"hbf":12},{"cluster":2,"hbf":11},{"cluster":2,"hbf":10},{"cluster":2,"hbf":9},{"cluster":2,"hbf":8},{"cluster":2,"hbf":7},{"cluster":2,"hbf":6},{"cluster":2,"hbf":5},{"cluster":2,"hbf":4},
{"cluster":3,"hbf":48},{"cluster":3,"hbf":46},{"cluster":3,"hbf":37},{"cluster":3,"hbf":27},{"cluster":3,"hbf":25},{"cluster":3,"hbf":24},{"cluster":3,"hbf":23},{"cluster":3,"hbf":22},{"cluster":3,"hbf":9},{"cluster":3,"hbf":5},{"cluster":3,"hbf":4},
{"cluster":5,"hbf":32},{"cluster":5,"hbf":31},{"cluster":5,"hbf":30},{"cluster":5,"hbf":29},{"cluster":5,"hbf":28},{"cluster":5,"hbf":26},{"cluster":5,"hbf":25},{"cluster":5,"hbf":24},{"cluster":5,"hbf":22},{"cluster":5,"hbf":21},{"cluster":5,"hbf":20},{"cluster":5,"hbf":19},{"cluster":5,"hbf":14},{"cluster":5,"hbf":13},{"cluster":5,"hbf":12},{"cluster":5,"hbf":11},{"cluster":5,"hbf":10},{"cluster":5,"hbf":9},{"cluster":5,"hbf":8}
]},"mark":{"type":"point","filled":false,"color":"#000","opacity":1,"size":72,"strokeWidth":2.8},
"encoding":{"x":{"field":"cluster","type":"quantitative"},"y":{"field":"hbf","type":"quantitative"}}},
{"data":{"values":[{"x":2,"y":64.7,"y2":50}]},"mark":{"type":"rule","color":"#FF0000","size":13},
"encoding":{"x":{"field":"x","type":"quantitative"},"y":{"field":"y","type":"quantitative"},"y2":{"field":"y2"}}},
{"data":{"values":[{"x":2,"y":47.6}]},"mark":{"type":"point","filled":true,"color":"#FF0000","opacity":1,"size":1600,"shape":"M-1,-1L1,-1L0,1Z"},
"encoding":{"x":{"field":"x","type":"quantitative"},"y":{"field":"y","type":"quantitative"}}},
{"data":{"values":[{"x":3.42,"y":55.4,"label":"HBF"}]},"mark":{"type":"text","font":"Open Sans","fontSize":28,"color":"#111"},
"encoding":{"x":{"field":"x","type":"quantitative"},"y":{"field":"y","type":"quantitative"},"text":{"field":"label"}}}
]}
],
"resolve":{"scale":{"x":"independent","y":"independent","color":"independent","size":"independent"},"axis":{"x":"independent","y":"independent"},"legend":{"color":"independent"}}
}
